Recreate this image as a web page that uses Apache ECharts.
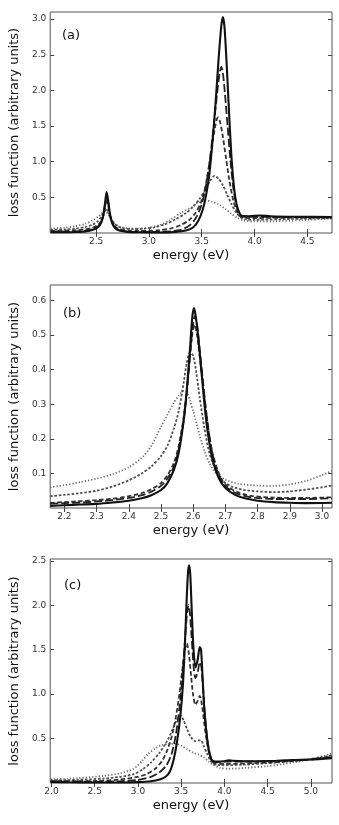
<!DOCTYPE html>
<html>
<head>
<meta charset="utf-8">
<script src="https://cdn.jsdelivr.net/npm/echarts@6/dist/echarts.min.js"></script>
<style>
html, body { margin: 0; padding: 0; background: #fff; }
#chart { width: 339px; height: 825px; }
</style>
</head>
<body>
<div id="chart"></div>
<script>
// ---- panel (a) ----
var aSolid = [[2.07,0.01],[2.2,0.01],[2.3,0.013],[2.4,0.022],[2.47,0.045],[2.52,0.085],[2.55,0.15],[2.57,0.26],[2.585,0.42],[2.6,0.575],[2.615,0.45],[2.63,0.28],[2.65,0.15],[2.68,0.07],[2.72,0.035],[2.8,0.015],[2.9,0.01],[3.1,0.008],[3.25,0.015],[3.35,0.035],[3.42,0.08],[3.47,0.18],[3.51,0.33],[3.54,0.52],[3.57,0.8],[3.6,1.25],[3.63,1.8],[3.66,2.45],[3.685,2.9],[3.7,3.03],[3.715,2.9],[3.735,2.4],[3.755,1.8],[3.78,1.1],[3.805,0.65],[3.83,0.4],[3.86,0.27],[3.88,0.24],[3.95,0.235],[4.05,0.245],[4.15,0.235],[4.4,0.228],[4.73,0.225]];
var aLong = [[2.07,0.02],[2.2,0.02],[2.3,0.023],[2.4,0.032],[2.47,0.055],[2.52,0.095],[2.55,0.16],[2.57,0.26],[2.585,0.4],[2.6,0.54],[2.615,0.43],[2.63,0.27],[2.65,0.15],[2.68,0.075],[2.72,0.04],[2.8,0.02],[2.9,0.015],[3.1,0.015],[3.2,0.022],[3.3,0.045],[3.38,0.1],[3.44,0.2],[3.49,0.36],[3.53,0.58],[3.57,0.95],[3.61,1.45],[3.645,1.95],[3.67,2.25],[3.685,2.33],[3.7,2.25],[3.72,1.95],[3.745,1.5],[3.77,1.05],[3.8,0.62],[3.83,0.38],[3.86,0.26],[3.88,0.23],[4.0,0.228],[4.4,0.222],[4.73,0.22]];
var aMid = [[2.07,0.03],[2.2,0.032],[2.3,0.038],[2.4,0.05],[2.47,0.075],[2.52,0.115],[2.55,0.17],[2.57,0.25],[2.585,0.36],[2.6,0.48],[2.615,0.39],[2.63,0.26],[2.65,0.16],[2.68,0.09],[2.72,0.055],[2.8,0.035],[2.9,0.03],[3.0,0.032],[3.1,0.04],[3.2,0.06],[3.3,0.11],[3.38,0.18],[3.44,0.28],[3.49,0.42],[3.53,0.62],[3.57,0.95],[3.61,1.35],[3.64,1.58],[3.655,1.62],[3.675,1.55],[3.7,1.35],[3.73,1.05],[3.76,0.75],[3.8,0.45],[3.84,0.28],[3.88,0.215],[4.0,0.21],[4.4,0.215],[4.73,0.215]];
var aShort = [[2.07,0.045],[2.2,0.05],[2.3,0.06],[2.4,0.085],[2.47,0.12],[2.52,0.17],[2.55,0.23],[2.575,0.3],[2.595,0.34],[2.615,0.3],[2.635,0.23],[2.66,0.16],[2.7,0.1],[2.75,0.07],[2.85,0.055],[2.95,0.06],[3.05,0.08],[3.15,0.12],[3.25,0.19],[3.35,0.28],[3.42,0.37],[3.48,0.48],[3.53,0.6],[3.575,0.72],[3.62,0.8],[3.66,0.76],[3.7,0.67],[3.74,0.54],[3.78,0.41],[3.82,0.3],[3.86,0.23],[3.92,0.19],[4.0,0.185],[4.3,0.195],[4.73,0.21]];
var aDot = [[2.07,0.06],[2.2,0.075],[2.3,0.095],[2.4,0.13],[2.47,0.18],[2.52,0.23],[2.55,0.27],[2.575,0.3],[2.595,0.3],[2.615,0.26],[2.64,0.2],[2.67,0.14],[2.72,0.09],[2.8,0.065],[2.9,0.06],[3.0,0.075],[3.1,0.11],[3.2,0.18],[3.3,0.28],[3.4,0.36],[3.47,0.43],[3.53,0.46],[3.6,0.44],[3.66,0.4],[3.72,0.34],[3.78,0.27],[3.84,0.21],[3.9,0.175],[4.0,0.163],[4.2,0.165],[4.45,0.18],[4.73,0.2]];
var aXTicks = [2.5, 3.0, 3.5, 4.0, 4.5];
var aYTicks = [0.5, 1.0, 1.5, 2.0, 2.5, 3.0];

// ---- panel (b) ----
var bSolid = [[2.156,0.006],[2.2,0.008],[2.25,0.01],[2.3,0.012],[2.35,0.016],[2.4,0.021],[2.44,0.028],[2.47,0.037],[2.5,0.052],[2.52,0.072],[2.54,0.11],[2.555,0.16],[2.57,0.25],[2.58,0.34],[2.59,0.46],[2.597,0.55],[2.602,0.578],[2.607,0.56],[2.615,0.5],[2.625,0.4],[2.635,0.3],[2.645,0.22],[2.66,0.14],[2.68,0.085],[2.7,0.058],[2.73,0.038],[2.76,0.028],[2.8,0.021],[2.85,0.017],[2.9,0.015],[2.95,0.014],[3.031,0.015]];
var bLong = [[2.156,0.012],[2.2,0.014],[2.25,0.016],[2.3,0.019],[2.35,0.023],[2.4,0.029],[2.44,0.037],[2.47,0.047],[2.5,0.064],[2.52,0.085],[2.54,0.12],[2.555,0.17],[2.57,0.25],[2.58,0.33],[2.59,0.44],[2.598,0.52],[2.605,0.555],[2.612,0.53],[2.62,0.46],[2.63,0.37],[2.64,0.28],[2.655,0.18],[2.67,0.12],[2.69,0.075],[2.71,0.055],[2.74,0.04],[2.78,0.031],[2.85,0.026],[2.95,0.026],[3.031,0.028]];
var bMid = [[2.156,0.015],[2.2,0.017],[2.25,0.02],[2.3,0.023],[2.35,0.027],[2.4,0.034],[2.44,0.043],[2.47,0.054],[2.5,0.072],[2.52,0.095],[2.54,0.13],[2.555,0.18],[2.57,0.26],[2.58,0.34],[2.59,0.44],[2.598,0.51],[2.604,0.53],[2.612,0.5],[2.62,0.44],[2.63,0.36],[2.64,0.28],[2.655,0.18],[2.67,0.125],[2.69,0.08],[2.71,0.06],[2.74,0.045],[2.78,0.035],[2.85,0.03],[2.95,0.029],[3.031,0.031]];
var bShort = [[2.156,0.034],[2.2,0.038],[2.25,0.043],[2.3,0.05],[2.35,0.062],[2.4,0.08],[2.44,0.1],[2.47,0.12],[2.5,0.15],[2.52,0.18],[2.54,0.23],[2.555,0.28],[2.57,0.36],[2.58,0.42],[2.59,0.45],[2.6,0.44],[2.61,0.39],[2.62,0.32],[2.635,0.23],[2.65,0.16],[2.67,0.11],[2.69,0.08],[2.72,0.062],[2.76,0.052],[2.8,0.048],[2.85,0.046],[2.9,0.048],[2.95,0.053],[3.0,0.06],[3.031,0.065]];
var bDot = [[2.156,0.06],[2.2,0.066],[2.25,0.075],[2.3,0.085],[2.35,0.098],[2.4,0.118],[2.44,0.145],[2.47,0.18],[2.5,0.235],[2.52,0.27],[2.54,0.305],[2.555,0.325],[2.57,0.338],[2.58,0.335],[2.59,0.31],[2.6,0.28],[2.61,0.245],[2.62,0.21],[2.635,0.165],[2.65,0.13],[2.67,0.1],[2.7,0.082],[2.74,0.07],[2.8,0.065],[2.85,0.064],[2.9,0.068],[2.95,0.078],[3.0,0.095],[3.031,0.107]];
var bXTicks = [2.2, 2.3, 2.4, 2.5, 2.6, 2.7, 2.8, 2.9, 3.0];
var bYTicks = [0.1, 0.2, 0.3, 0.4, 0.5, 0.6];

// ---- panel (c) ----
var cSolid = [[1.99,0.012],[2.2,0.008],[2.5,0.005],[2.8,0.006],[3.0,0.01],[3.15,0.02],[3.25,0.04],[3.32,0.07],[3.37,0.13],[3.41,0.25],[3.45,0.45],[3.49,0.75],[3.52,1.1],[3.545,1.6],[3.565,2.1],[3.58,2.38],[3.592,2.45],[3.605,2.35],[3.62,2.0],[3.64,1.55],[3.665,1.3],[3.69,1.38],[3.715,1.53],[3.73,1.5],[3.75,1.15],[3.77,0.8],[3.8,0.5],[3.83,0.32],[3.86,0.25],[3.9,0.24],[4.0,0.245],[4.05,0.255],[4.1,0.25],[4.3,0.245],[4.6,0.25],[5.0,0.265],[5.245,0.28]];
var cLong = [[1.99,0.015],[2.5,0.014],[2.8,0.02],[3.0,0.035],[3.15,0.07],[3.25,0.12],[3.33,0.2],[3.39,0.33],[3.44,0.55],[3.48,0.85],[3.51,1.15],[3.54,1.55],[3.565,1.88],[3.585,2.0],[3.6,1.92],[3.62,1.65],[3.645,1.3],[3.665,1.18],[3.69,1.24],[3.715,1.36],[3.735,1.3],[3.76,0.95],[3.79,0.6],[3.82,0.38],[3.855,0.26],[3.9,0.235],[4.0,0.24],[4.5,0.245],[5.0,0.265],[5.245,0.29]];
var cMid = [[1.99,0.02],[2.5,0.022],[2.8,0.04],[3.0,0.07],[3.1,0.1],[3.2,0.16],[3.28,0.25],[3.34,0.37],[3.39,0.52],[3.44,0.75],[3.48,1.0],[3.51,1.25],[3.54,1.48],[3.565,1.57],[3.59,1.45],[3.615,1.2],[3.64,0.98],[3.665,0.88],[3.69,0.92],[3.715,0.98],[3.74,0.88],[3.77,0.65],[3.8,0.45],[3.83,0.31],[3.86,0.24],[3.9,0.215],[4.0,0.215],[4.5,0.23],[5.0,0.265],[5.245,0.3]];
var cShort = [[1.99,0.03],[2.3,0.035],[2.6,0.05],[2.8,0.07],[2.95,0.1],[3.05,0.15],[3.15,0.23],[3.25,0.34],[3.33,0.46],[3.4,0.6],[3.45,0.71],[3.49,0.76],[3.53,0.7],[3.57,0.6],[3.61,0.52],[3.66,0.47],[3.7,0.48],[3.73,0.48],[3.76,0.42],[3.8,0.33],[3.84,0.25],[3.88,0.21],[3.95,0.2],[4.2,0.205],[4.6,0.23],[5.0,0.27],[5.245,0.31]];
var cDot = [[1.99,0.04],[2.3,0.055],[2.6,0.08],[2.8,0.11],[2.95,0.16],[3.05,0.25],[3.12,0.33],[3.2,0.39],[3.28,0.43],[3.36,0.44],[3.44,0.44],[3.5,0.42],[3.57,0.38],[3.64,0.34],[3.7,0.32],[3.76,0.29],[3.82,0.24],[3.88,0.2],[3.95,0.17],[4.05,0.16],[4.25,0.17],[4.5,0.19],[4.8,0.23],[5.05,0.28],[5.245,0.33]];
var cXTicks = [2.0, 2.5, 3.0, 3.5, 4.0, 4.5, 5.0];
var cYTicks = [0.5, 1.0, 1.5, 2.0, 2.5];

var chart = echarts.init(document.getElementById("chart"));
var font = "DejaVu Sans";

// line look for the five curves (dotted is drawn first, solid last)
var looks = [
  { color: "#6a6a6a", width: 1.8, type: [1.2, 2] },
  { color: "#505050", width: 1.8, type: [2.5, 1.8] },
  { color: "#333", width: 1.8, type: [4.5, 2.5] },
  { color: "#222", width: 1.8, type: [8, 3] },
  { color: "#111", width: 2.1, type: "solid" }
];

var panels = [
  { grid: { left: 45, top: 12, width: 287, height: 221 }, x: [2.066, 4.733], y: [0, 3.1], xt: aXTicks, yt: aYTicks, lines: [aDot, aShort, aMid, aLong, aSolid], tag: "(a)", tagTop: 12 },
  { grid: { left: 46, top: 285, width: 286, height: 223 }, x: [2.156, 3.031], y: [0, 0.645], xt: bXTicks, yt: bYTicks, lines: [bDot, bShort, bMid, bLong, bSolid], tag: "(b)", tagTop: 17 },
  { grid: { left: 47, top: 559, width: 285, height: 224 }, x: [1.985, 5.245], y: [0, 2.52], xt: cXTicks, yt: cYTicks, lines: [cDot, cShort, cMid, cLong, cSolid], tag: "(c)", tagTop: 15 }
];

var option = {
  backgroundColor: "#fff",
  animation: false,
  grid: [], xAxis: [], yAxis: [], series: [], title: []
};

panels.forEach(function (p, i) {
  var g = Object.assign({ show: true, borderColor: "#555", borderWidth: 1, backgroundColor: "#fff" }, p.grid);
  option.grid.push(g);
  var tick = { inside: true, length: 4, lineStyle: { color: "#444", width: 1 } };
  // bottom / left axes with labels
  option.xAxis.push({
    type: "value", gridIndex: i, min: p.x[0], max: p.x[1], position: "bottom",
    name: "energy (eV)", nameLocation: "middle", nameGap: 16,
    nameTextStyle: { fontFamily: font, fontSize: 13, color: "#111" },
    axisLine: { show: false }, splitLine: { show: false },
    axisTick: Object.assign({ customValues: p.xt }, tick),
    axisLabel: { customValues: p.xt, margin: 4, fontFamily: font, fontSize: 9, color: "#333",
      formatter: function (v) { return v.toFixed(1); } }
  });
  option.yAxis.push({
    type: "value", gridIndex: i, min: p.y[0], max: p.y[1], position: "left",
    name: "loss function (arbitrary units)", nameLocation: "middle", nameGap: 22,
    nameTextStyle: { fontFamily: font, fontSize: 13, color: "#111" },
    axisLine: { show: false }, splitLine: { show: false },
    axisTick: Object.assign({ customValues: p.yt }, tick),
    axisLabel: { customValues: p.yt, margin: 4, fontFamily: font, fontSize: 9, color: "#333",
      formatter: function (v) { return v.toFixed(1); } }
  });
  // top / right axes: ticks only
  option.xAxis.push({
    type: "value", gridIndex: i, min: p.x[0], max: p.x[1], position: "top",
    axisLine: { show: false }, splitLine: { show: false }, axisLabel: { show: false },
    axisTick: Object.assign({ customValues: p.xt }, tick)
  });
  option.yAxis.push({
    type: "value", gridIndex: i, min: p.y[0], max: p.y[1], position: "right",
    axisLine: { show: false }, splitLine: { show: false }, axisLabel: { show: false },
    axisTick: Object.assign({ customValues: p.yt }, tick)
  });
  p.lines.forEach(function (d, k) {
    option.series.push({
      type: "line", xAxisIndex: i * 2, yAxisIndex: i * 2, data: d,
      showSymbol: false, symbol: "none", smooth: 0.25,
      clip: true, silent: true, z: 2 + k,
      lineStyle: { color: looks[k].color, width: looks[k].width, type: looks[k].type }
    });
  });
  option.title.push({
    text: p.tag, left: p.grid.left + 12, top: p.grid.top + p.tagTop,
    textStyle: { fontFamily: font, fontSize: 13, fontWeight: "normal", color: "#111" }
  });
});

chart.setOption(option);
</script>
</body>
</html>
